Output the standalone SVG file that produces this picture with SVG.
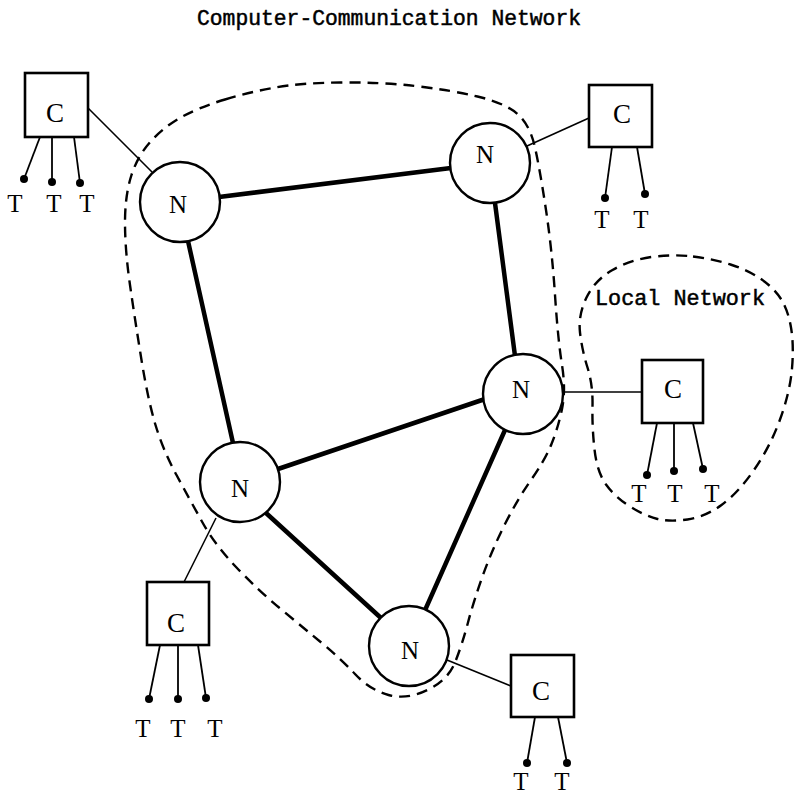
<svg xmlns="http://www.w3.org/2000/svg" width="796" height="796" viewBox="0 0 796 796">
<style>
.bnd{fill:none;stroke:#000;stroke-width:2.4;stroke-dasharray:11 7}
.thick{stroke:#000;stroke-width:4.5;stroke-linecap:round}
.thin{stroke:#000;stroke-width:1.6}
.term{stroke:#000;stroke-width:1.8}
.dot{fill:#000}
.node{fill:#fff;stroke:#000;stroke-width:2.4}
.box{fill:#fff;stroke:#000;stroke-width:2.6}
.lbl{font-family:"Liberation Serif","Times New Roman",serif;font-size:25px;text-anchor:middle;fill:#000}
.clbl{font-family:"Liberation Serif","Times New Roman",serif;font-size:27px;text-anchor:middle;fill:#000}
.mono{font-family:"Liberation Mono","Courier New",monospace;font-size:21.5px;fill:#000;stroke:#000;stroke-width:0.5}
</style>
<text class="mono" x="197" y="25" textLength="384" lengthAdjust="spacingAndGlyphs">Computer-Communication Network</text>
<g id="boundaries">
<path class="bnd" d="M225,99.5 Q250,92 275,87.5 Q300,83 340,82.5 Q380,82 415,86 Q450,90 477.5,96.5 Q505,103 517.5,114 Q530,125 535,147.5 Q540,170 546,210 Q552,250 555,295 Q558,340 562,365 Q566,390 562,409 Q558,428 551.5,444 Q545,460 531,480 Q517,500 504.5,525 Q492,550 483,575 Q474,600 468,622.5 Q462,645 455,662.5 Q448,680 427.5,690 Q407,700 388.5,695 Q370,690 355,674 Q340,658 320,641.5 Q300,625 279,607.5 Q258,590 236.5,567.5 Q215,545 202.5,522.5 Q190,500 176.5,475 Q163,450 155.5,425 Q148,400 141.5,360 Q135,320 130,285 Q125,250 125,222.5 Q125,195 131.5,175 Q138,155 151.5,140.5 Q165,126 182.5,116.5 Q200,107 225,99.5 Z"/>
<path class="bnd" d="M693,256.5 Q713,259 730.5,264.5 Q748,270 761,279 Q774,288 781,299 Q788,310 791,327.5 Q794,345 792,368.5 Q790,392 780,419.5 Q770,447 754,470 Q738,493 721.5,505 Q705,517 687.5,519.5 Q670,522 657.5,519 Q645,516 630,506.5 Q615,497 606,484.5 Q597,472 594.5,449.5 Q592,427 592.5,406 Q593,385 587.5,367.5 Q582,350 580,332.5 Q578,315 586.5,297.5 Q595,280 612.5,270 Q630,260 651.5,257 Q673,254 693,256.5 Z"/>
<text class="mono" x="595" y="305" textLength="170" lengthAdjust="spacingAndGlyphs">Local Network</text>
</g>
<g id="connectors">
<line class="thick" x1="219" y1="197" x2="451" y2="168"/>
<line class="thick" x1="495" y1="203" x2="515" y2="356"/>
<line class="thick" x1="188" y1="241" x2="233" y2="443"/>
<line class="thick" x1="278" y1="469" x2="485" y2="399"/>
<line class="thick" x1="266" y1="513" x2="381" y2="618"/>
<line class="thick" x1="505" y1="430" x2="426" y2="608"/>
<line class="thin" x1="88" y1="108" x2="152" y2="172"/>
<line class="thin" x1="589" y1="118" x2="527" y2="146"/>
<line class="thin" x1="563" y1="392" x2="642" y2="392"/>
<line class="thin" x1="216" y1="518" x2="184" y2="582"/>
<line class="thin" x1="447" y1="660" x2="511" y2="686"/>
</g>
<g id="N1"><circle class="node" cx="180" cy="202" r="40"/><text class="lbl" x="178" y="213">N</text></g>
<g id="N2"><circle class="node" cx="490" cy="163" r="40"/><text class="lbl" x="485" y="163">N</text></g>
<g id="N3"><circle class="node" cx="523" cy="394" r="40"/><text class="lbl" x="521" y="398">N</text></g>
<g id="N4"><circle class="node" cx="240" cy="482" r="40"/><text class="lbl" x="240" y="497">N</text></g>
<g id="N5"><circle class="node" cx="409" cy="646" r="40"/><text class="lbl" x="410" y="659">N</text></g>
<g id="C1">
<rect class="box" x="25" y="73" width="63" height="64"/><text class="clbl" x="55" y="122">C</text>
<line class="term" x1="40" y1="137" x2="24" y2="179"/><circle class="dot" cx="24" cy="179" r="4"/>
<line class="term" x1="52" y1="137" x2="52" y2="182"/><circle class="dot" cx="52" cy="182" r="4"/>
<line class="term" x1="74" y1="137" x2="80" y2="183"/><circle class="dot" cx="80" cy="183" r="4"/>
<text class="lbl" x="15" y="212">T</text><text class="lbl" x="54" y="212">T</text><text class="lbl" x="87" y="212">T</text>
</g>
<g id="C2">
<rect class="box" x="589" y="85" width="63" height="62"/><text class="clbl" x="622" y="123">C</text>
<line class="term" x1="612" y1="147" x2="605" y2="198"/><circle class="dot" cx="605" cy="198" r="4"/>
<line class="term" x1="637" y1="147" x2="645" y2="194"/><circle class="dot" cx="645" cy="194" r="4"/>
<text class="lbl" x="602" y="228">T</text><text class="lbl" x="641" y="228">T</text>
</g>
<g id="C3">
<rect class="box" x="642" y="360" width="61" height="63"/><text class="clbl" x="673" y="398">C</text>
<line class="term" x1="657" y1="423" x2="647" y2="475"/><circle class="dot" cx="647" cy="475" r="4"/>
<line class="term" x1="674" y1="423" x2="674" y2="471"/><circle class="dot" cx="674" cy="471" r="4"/>
<line class="term" x1="693" y1="423" x2="703" y2="469"/><circle class="dot" cx="703" cy="469" r="4"/>
<text class="lbl" x="639" y="502">T</text><text class="lbl" x="675" y="502">T</text><text class="lbl" x="712" y="502">T</text>
</g>
<g id="C4">
<rect class="box" x="147" y="582" width="62" height="63"/><text class="clbl" x="176" y="632">C</text>
<line class="term" x1="160" y1="645" x2="149" y2="699"/><circle class="dot" cx="149" cy="699" r="4"/>
<line class="term" x1="178" y1="645" x2="178" y2="699"/><circle class="dot" cx="178" cy="699" r="4"/>
<line class="term" x1="198" y1="645" x2="206" y2="698"/><circle class="dot" cx="206" cy="698" r="4"/>
<text class="lbl" x="143" y="737">T</text><text class="lbl" x="178" y="737">T</text><text class="lbl" x="215" y="737">T</text>
</g>
<g id="C5">
<rect class="box" x="511" y="655" width="63" height="62"/><text class="clbl" x="541" y="700">C</text>
<line class="term" x1="535" y1="717" x2="527" y2="763"/><circle class="dot" cx="527" cy="763" r="4"/>
<line class="term" x1="558" y1="717" x2="567" y2="763"/><circle class="dot" cx="567" cy="763" r="4"/>
<text class="lbl" x="521" y="790">T</text><text class="lbl" x="562" y="790">T</text>
</g>
</svg>
